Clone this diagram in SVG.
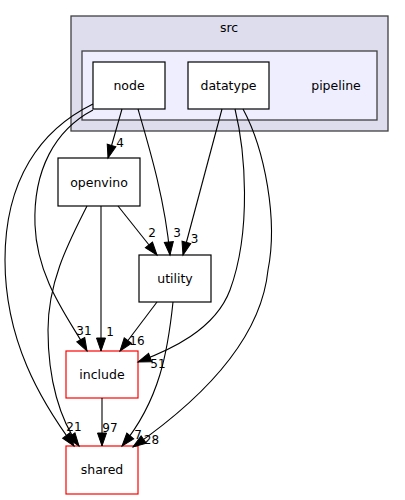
<svg xmlns="http://www.w3.org/2000/svg" width="405" height="500" viewBox="0 0 405 500">
<style>
text{font-family:"DejaVu Sans","Liberation Sans",sans-serif;fill:#000}
.n{font-size:12.5px;text-anchor:middle}
.l{font-size:12px;text-anchor:middle}
.box{fill:#fff;stroke:#000;stroke-width:1.2}
.red{fill:#fff;stroke:#ff0000;stroke-width:1.2}
.e{fill:none;stroke:#000;stroke-width:1.1;marker-end:url(#ah)}
</style>
<defs>
<marker id="ah" markerUnits="userSpaceOnUse" markerWidth="13" markerHeight="10" refX="13" refY="4.5" orient="auto" overflow="visible">
<path d="M0,0 L13,4.5 L0,9 Z" fill="#000" stroke="#000" stroke-width="1"/>
</marker>
</defs>
<g id="cluster_src">
<rect x="71" y="16" width="317" height="115" fill="#ddddee" stroke="#404040" stroke-width="1.3"/>
<text class="n" x="229" y="31.5">src</text>
</g>
<g id="cluster_pipeline">
<rect x="82" y="51" width="295" height="69" fill="#eeeeff" stroke="#404040" stroke-width="1.3"/>
<text class="n" x="336" y="90">pipeline</text>
</g>
<g id="node_node">
<rect class="box" x="93" y="62" width="72" height="47"/>
<text class="n" x="129" y="90">node</text>
</g>
<g id="node_datatype">
<rect class="box" x="188" y="62" width="81" height="47"/>
<text class="n" x="228.5" y="90">datatype</text>
</g>
<g id="node_openvino">
<rect class="box" x="58" y="158" width="82" height="48"/>
<text class="n" x="99" y="186.5">openvino</text>
</g>
<g id="node_utility">
<rect class="box" x="139" y="255" width="72" height="47"/>
<text class="n" x="175" y="283">utility</text>
</g>
<g id="node_include">
<rect class="red" x="66" y="351" width="72" height="47"/>
<text class="n" x="102" y="378.5">include</text>
</g>
<g id="node_shared">
<rect class="red" x="66" y="446" width="72" height="48"/>
<text class="n" x="102" y="474">shared</text>
</g>
<g id="edges">
<path class="e" d="M122,109 L108,158"/>
<text class="l" x="120" y="147">4</text>
<path class="e" d="M138,109 C150,150 165,200 170,255"/>
<text class="l" x="177" y="237">3</text>
<path class="e" d="M222,109 L183,255"/>
<text class="l" x="194.5" y="243">3</text>
<path class="e" d="M118,206 L157,255"/>
<text class="l" x="152" y="237">2</text>
<path class="e" d="M101,206 L101,351"/>
<text class="l" x="110" y="336">1</text>
<path class="e" d="M93,110 C55,130 33,170 35,225 C37,280 70,320 87,351"/>
<text class="l" x="84" y="335">31</text>
<path class="e" d="M93,104 C40,130 5,180 5,260 C5,340 40,400 74,446"/>
<path class="e" d="M87,206 C70,240 48,280 48,330 C48,380 60,420 79,446"/>
<text class="l" x="74" y="431">21</text>
<path class="e" d="M157,302 L120,351"/>
<text class="l" x="137" y="345">16</text>
<path class="e" d="M235,109 C245,150 252,230 230,290 C215,330 170,350 138,362"/>
<text class="l" x="158" y="368">51</text>
<path class="e" d="M173,302 C168,350 160,400 122,446"/>
<text class="l" x="138" y="439">7</text>
<path class="e" d="M243,109 C265,150 278,220 268,270 C262,330 215,390 133,447"/>
<text class="l" x="151.5" y="444">28</text>
<path class="e" d="M102,398 L102,446"/>
<text class="l" x="110" y="432">97</text>
</g>
</svg>
